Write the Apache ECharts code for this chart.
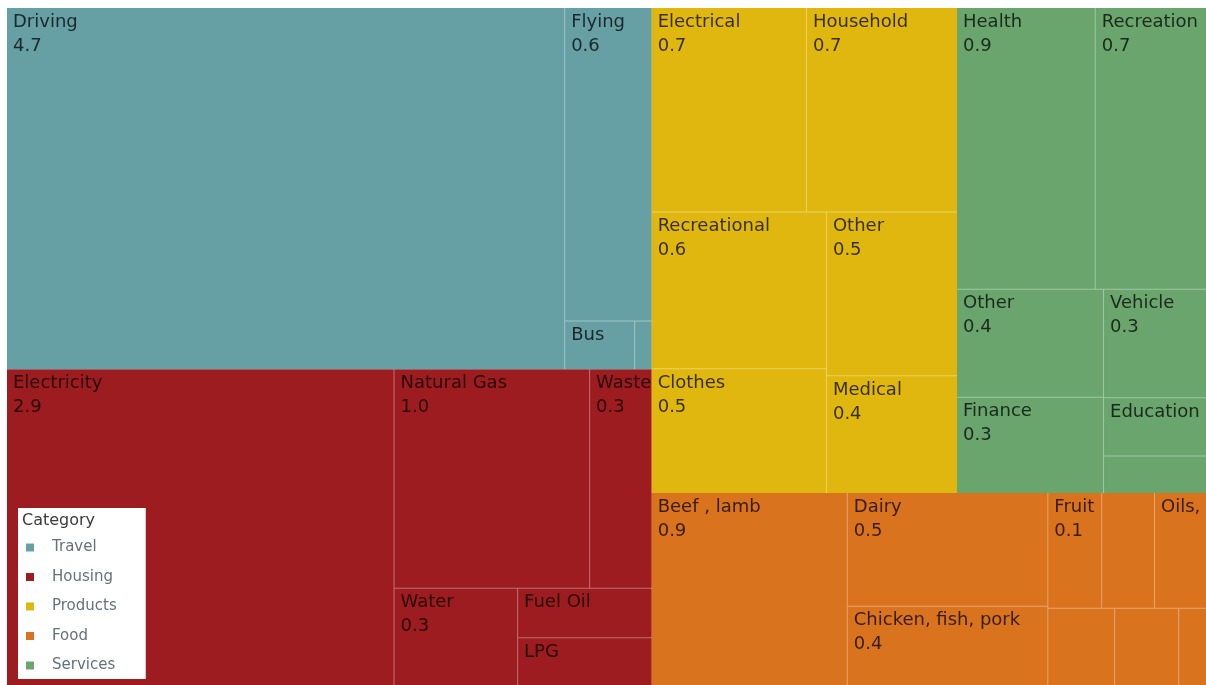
<!DOCTYPE html>
<html>
<head>
<meta charset="utf-8">
<title>Carbon footprint by category</title>
<script src="https://cdn.jsdelivr.net/npm/echarts/dist/echarts.min.js"></script>
<style>
    html, body { margin: 0; padding: 0; background: #fff; }
    #chart { width: 1206px; height: 685px; }
</style>
</head>
<body>
<div id="chart"></div>
<script>
// categories and their sub-items (tonnes)
var categories = ['Travel', 'Housing', 'Products', 'Food', 'Services'];

var travelNames = ['Driving', 'Flying', 'Bus', ''];
var travelValues = [4.72, 0.64, 0.08, 0.02];

var housingNames = ['Electricity', 'Natural Gas', 'Waste', 'Water', 'Fuel Oil', 'LPG'];
var housingValues = [2.86, 1.0, 0.32, 0.28, 0.155, 0.15];

var productNames = ['Electrical', 'Household', 'Recreational', 'Clothes', 'Other', 'Medical'];
var productValues = [0.74, 0.72, 0.64, 0.51, 0.50, 0.36];

var foodNames = ['Beef , lamb', 'Dairy', 'Chicken, fish, pork', 'Fruit', '', 'Oils,', '', '', ''];
var foodValues = [0.88, 0.53, 0.37, 0.145, 0.142, 0.14, 0.12, 0.115, 0.05];

var serviceNames = ['Health', 'Recreation', 'Other', 'Finance', 'Vehicle', 'Education', ''];
var serviceValues = [0.91, 0.73, 0.37, 0.33, 0.26, 0.14, 0.09];

// cells that only show their name
var nameOnly = ['Bus', 'Fuel Oil', 'LPG', 'Education', 'Oils,'];

var colors = ['#67a0a4', '#9d1c20', '#dfb70e', '#d9731e', '#6aa56e'];
var lineColors = ['#a0c5c7', '#c26f71', '#ecd264', '#e8a56e', '#a0c8a3'];

var groupNames = [travelNames, housingNames, productNames, foodNames, serviceNames];
var groupValues = [travelValues, housingValues, productValues, foodValues, serviceValues];

var treeData = categories.map(function (cat, i) {
    return {
        name: cat,
        itemStyle: { color: colors[i], borderColor: lineColors[i] },
        children: groupNames[i].map(function (n, j) {
            var item = { name: n, value: groupValues[i][j] };
            if (n === '') item.label = { show: false };
            else if (nameOnly.indexOf(n) >= 0) item.label = { formatter: '{b}' };
            return item;
        })
    };
});

var chart = echarts.init(document.getElementById('chart'));

var option = {
    animation: false,
    backgroundColor: '#fff',
    title: {
        text: 'Category',
        left: 22,
        top: 513,
        padding: 0,
        z: 10,
        textStyle: {
            fontFamily: 'DejaVu Sans',
            fontSize: 16,
            fontWeight: 'normal',
            color: '#3a3a3a'
        }
    },
    legend: {
        data: categories,
        orient: 'vertical',
        left: 18,
        top: 508,
        padding: [31, 29, 5, 8],
        backgroundColor: '#fff',
        icon: 'rect',
        itemWidth: 8,
        itemHeight: 8,
        itemGap: 12.5,
        selectedMode: false,
        textStyle: {
            fontFamily: 'DejaVu Sans',
            fontSize: 15,
            lineHeight: 17,
            color: '#66707c',
            padding: [0, 0, 0, 13]
        }
    },
    series: [
        {
            type: 'treemap',
            left: 7,
            top: 8,
            right: 0,
            bottom: 0,
            roam: false,
            nodeClick: false,
            sort: 'desc',
            breadcrumb: { show: false },
            label: {
                show: true,
                position: 'insideTopLeft',
                distance: 0,
                padding: [2, 4, 0, 6],
                fontFamily: 'DejaVu Sans',
                fontSize: 18,
                lineHeight: 24,
                color: 'rgba(0,0,0,0.75)',
                overflow: 'none',
                formatter: function (p) {
                    return p.name + '\n' + p.value.toFixed(1);
                }
            },
            upperLabel: { show: false },
            levels: [
                { itemStyle: { borderWidth: 0, gapWidth: 0 } },
                { itemStyle: { borderWidth: 0, gapWidth: 1 } },
                { itemStyle: { borderWidth: 0, gapWidth: 0, borderColor: 'rgba(0,0,0,0)' } }
            ],
            data: treeData
        },
        {
            // empty pie: only feeds the legend with category colours
            type: 'pie',
            radius: [0, 0],
            center: [-100, -100],
            silent: true,
            label: { show: false },
            labelLine: { show: false },
            data: categories.map(function (c, i) {
                return { name: c, value: 1, itemStyle: { color: colors[i] } };
            })
        }
    ]
};

chart.setOption(option);

window.addEventListener('resize', function () {
    chart.resize();
});
</script>
</body>
</html>
